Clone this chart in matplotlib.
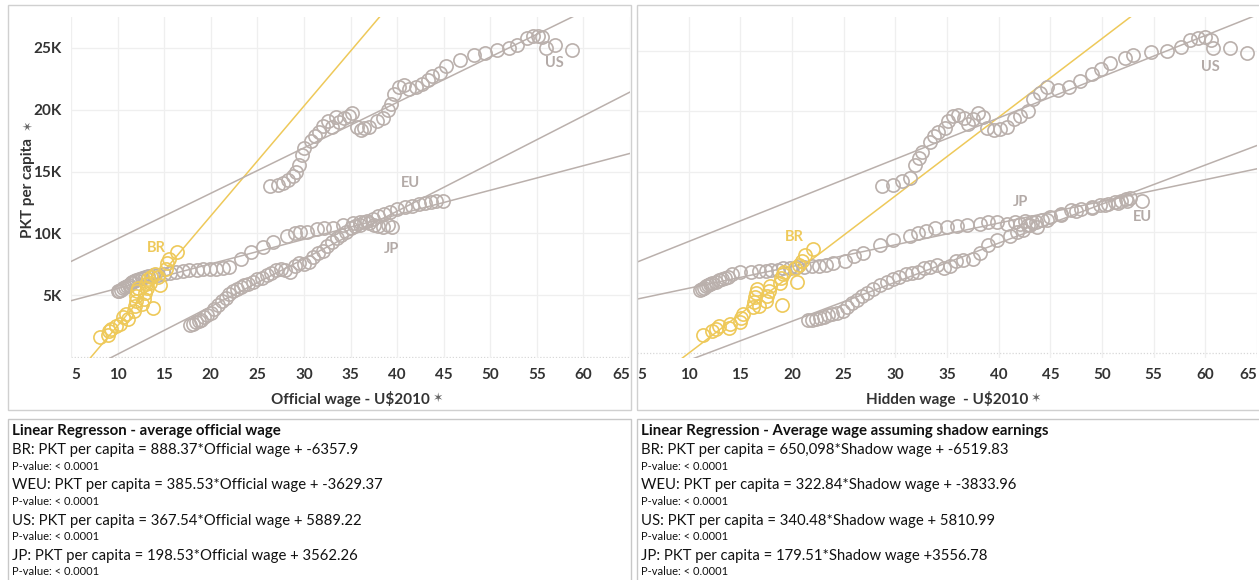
import numpy as np
import matplotlib
matplotlib.use("Agg")
import matplotlib.pyplot as plt
from matplotlib.patches import Rectangle

plt.rcParams['font.family'] = ['Lato', 'DejaVu Sans']

W, H = 1259, 580
GRAY = '#bab0ac'
YELLOW = '#eec95a'
LABEL_GRAY = '#b3aaa7'

# ---- official wage panel ----
br_off_x = [8.1, 9.0, 9.1, 9.3, 9.8, 10.3, 10.6, 10.9, 11.1, 11.8, 11.9, 12.0, 12.0, 12.1, 12.2,
            12.6, 12.8, 12.9, 13.0, 13.2, 13.3, 13.5, 13.6, 13.8, 14.0, 14.3, 14.6, 15.2, 15.3, 15.5, 16.4]
br_off_y = [1600, 1800, 2100, 2300, 2500, 2700, 3200, 3500, 3100, 3700, 4100, 4500, 4900, 5300, 5600,
            4300, 4700, 5200, 5900, 5600, 6300, 6000, 6500, 4000, 6700, 6500, 5800, 7100, 7600, 7900, 8500]

jp_off_x = [10.0, 10.2, 10.4, 10.6, 10.8, 11.0, 11.2, 11.4, 11.6, 11.8, 12.0, 12.3, 12.6, 12.9, 13.3,
            13.8, 14.3, 15.0, 15.6, 16.3, 17.0, 17.7, 18.5, 19.2, 19.9, 20.6, 21.3, 22.0, 23.2, 24.3,
            25.6, 26.7, 28.2, 29.0, 29.6, 30.3, 31.4, 32.2, 33.1, 34.2, 35.3, 36.0, 36.8, 37.4, 38.0,
            38.6, 39.2, 40.0, 40.8, 41.6, 42.3, 43.0, 43.6, 44.2, 44.9]
jp_off_y = [5300, 5350, 5450, 5550, 5650, 5750, 5850, 5950, 6050, 6150, 6250, 6300, 6400, 6450, 6550,
            6600, 6650, 6750, 6800, 6900, 6950, 7000, 7050, 7100, 7150, 7100, 7200, 7300, 7900, 8500,
            8900, 9300, 9800, 10000, 10100, 10150, 10350, 10400, 10450, 10700, 10800, 10950, 11000, 11200, 11400,
            11600, 11700, 11950, 12100, 12250, 12350, 12450, 12550, 12650, 12600]

eu_off_x = [17.8, 18.1, 18.4, 18.7, 19.0, 19.3, 19.6, 20.0, 20.4, 20.8, 21.2, 21.6, 22.0, 22.4, 22.8,
            23.2, 23.6, 24.0, 24.5, 25.0, 25.5, 26.0, 26.5, 27.0, 27.5, 28.0, 28.5, 29.0, 29.5, 30.0,
            30.5, 31.0, 31.5, 32.0, 32.5, 33.0, 33.5, 34.0, 34.5, 35.0, 35.5, 36.0, 36.5, 37.0, 37.5,
            38.0, 38.5, 39.0, 39.5]
eu_off_y = [2600, 2700, 2800, 2900, 3000, 3200, 3400, 3600, 3900, 4200, 4500, 4800, 5100, 5300, 5500,
            5700, 5800, 5900, 6100, 6300, 6400, 6600, 6800, 7000, 7100, 7000, 6900, 7400, 7600, 7500,
            7700, 8100, 8400, 8600, 9000, 9300, 9600, 9900, 10100, 10400, 10600, 10700, 10900, 10800, 10700,
            10600, 10500, 10700, 10500]

us_off_x = [26.4, 27.2, 27.8, 28.3, 28.8, 29.2, 29.5, 29.8, 30.0, 30.8, 31.2, 31.6, 32.1, 32.6, 33.0,
            33.4, 33.8, 34.3, 34.8, 35.2, 35.7, 36.1, 36.5, 37.0, 37.8, 38.5, 39.0, 39.3, 39.7, 40.2,
            40.7, 41.3, 42.0, 42.7, 43.3, 43.8, 44.6, 45.3, 46.7, 48.3, 49.4, 50.7, 52.0, 52.9, 53.9,
            54.6, 55.1, 55.6, 56.0, 57.0, 58.8]
us_off_y = [13800, 13900, 14100, 14300, 14600, 15000, 15500, 16300, 16900, 17500, 17900, 18200, 18700, 19100, 18600,
            19400, 19000, 19300, 19500, 19700, 18600, 18400, 18500, 18600, 19100, 19300, 20000, 20500, 21300, 21800,
            22000, 21700, 21800, 22100, 22400, 22700, 23000, 23500, 24000, 24400, 24600, 24800, 25000, 25200, 25800,
            26000, 26000, 25900, 25000, 25200, 24800]

# ---- hidden (shadow) wage panel ----
br_hid_x = [11.4, 12.3, 12.6, 12.9, 13.9, 14.0, 15.0, 15.1, 15.3, 16.2, 16.3, 16.4, 16.5, 16.6, 16.8,
            17.5, 17.6, 17.8, 17.9, 18.8, 18.9, 19.1, 19.2, 19.0, 20.5, 20.3, 20.7, 21.0, 21.3, 22.0]
br_hid_y = [1500, 1800, 2000, 2200, 2100, 2400, 2600, 2900, 3200, 3800, 4200, 4600, 5000, 5300, 3900,
            4300, 4700, 5100, 5500, 5800, 6200, 6500, 6700, 4000, 5900, 7000, 7300, 7600, 8100, 8600]

jp_hid_x = [11.1, 11.3, 11.5, 11.7, 11.9, 12.1, 12.3, 12.6, 12.9, 13.2, 13.5, 13.8, 14.2, 15.0, 16.0,
            16.8, 17.5, 18.0, 18.6, 19.1, 19.8, 20.5, 21.2, 21.9, 22.6, 23.3, 24.0, 25.1, 26.0, 26.9,
            28.5, 29.8, 31.4, 32.2, 33.0, 33.8, 35.0, 36.0, 36.9, 38.2, 39.0, 39.8, 40.8, 41.6, 42.1,
            42.5, 42.8, 43.2, 43.7, 44.7, 46.0, 47.5, 49.0, 50.3, 51.5, 52.4, 53.9]
jp_hid_y = [5200, 5300, 5400, 5500, 5600, 5700, 5800, 5900, 6000, 6100, 6200, 6300, 6500, 6700, 6700,
            6800, 6800, 6900, 6900, 7000, 7000, 7100, 7100, 7200, 7200, 7300, 7400, 7600, 8000, 8300,
            8900, 9300, 9700, 9900, 10100, 10300, 10400, 10500, 10600, 10700, 10800, 10800, 10700, 10800, 10700,
            10900, 10600, 10800, 10400, 11000, 11400, 11700, 12000, 12200, 12400, 12600, 12600]

eu_hid_x = [21.5, 21.9, 22.3, 22.7, 23.1, 23.5, 23.9, 24.4, 24.9, 25.3, 25.8, 26.3, 26.8, 27.3, 27.8,
            28.5, 29.2, 29.8, 30.4, 31.0, 31.6, 32.2, 32.8, 33.4, 34.0, 34.7, 35.3, 35.9, 36.5, 37.5,
            38.2, 39.0, 39.8, 41.1, 41.8, 42.4, 43.0, 43.6, 44.2, 45.0, 46.0, 47.0, 48.0, 49.0, 49.8,
            50.6, 51.3, 51.8, 52.3, 52.7]
eu_hid_y = [2700, 2700, 2800, 2900, 3000, 3100, 3200, 3300, 3500, 3800, 4100, 4400, 4700, 5000, 5300,
            5600, 5900, 6100, 6300, 6500, 6600, 6700, 7000, 7100, 7300, 7000, 7200, 7600, 7700, 7800,
            8300, 8900, 9300, 9700, 10000, 10200, 10600, 10800, 11000, 11200, 11500, 11800, 11900, 12100, 12200,
            12300, 12500, 12600, 12700, 12800]

us_hid_x = [28.7, 29.8, 30.6, 31.4, 31.9, 32.3, 32.6, 33.4, 33.7, 34.1, 34.8, 35.1, 35.6, 36.1, 36.6,
            37.0, 37.5, 38.0, 38.5, 38.9, 39.5, 40.1, 40.8, 41.5, 42.1, 42.8, 43.3, 44.0, 44.7, 45.7,
            46.8, 47.9, 49.0, 49.9, 50.8, 52.2, 53.0, 54.7, 56.3, 57.6, 58.5, 59.3, 60.0, 60.5, 60.7,
            62.4, 64.0]
us_hid_y = [13800, 13900, 14200, 14500, 15500, 16100, 16600, 17400, 17900, 18300, 18600, 19200, 19600, 19700, 19400,
            18900, 19300, 19800, 19500, 18600, 18400, 18500, 18700, 19300, 19600, 20000, 21000, 21500, 22000, 21700,
            22000, 22500, 23100, 23500, 24000, 24400, 24600, 24900, 25000, 25300, 25900, 26000, 26100, 25900, 25200,
            25200, 24800]

# regression coefficients (slope, intercept) in order BR, WEU, US, JP
reg_names = ['BR', 'WEU', 'US', 'JP']
off_slope = [888.37, 385.53, 367.54, 198.53]
off_icpt = [-6357.9, -3629.37, 5889.22, 3562.26]
hid_slope = [650.098, 322.84, 340.48, 179.51]
hid_icpt = [-6519.83, -3833.96, 5810.99, 3556.78]

off_lines = [
    "BR: PKT per capita = 888.37*Official wage + -6357.9",
    "WEU: PKT per capita = 385.53*Official wage + -3629.37",
    "US: PKT per capita = 367.54*Official wage + 5889.22",
    "JP: PKT per capita = 198.53*Official wage + 3562.26",
]
hid_lines = [
    "BR: PKT per capita = 650,098*Shadow wage + -6519.83",
    "WEU: PKT per capita = 322.84*Shadow wage + -3833.96",
    "US: PKT per capita = 340.48*Shadow wage + 5810.99",
    "JP: PKT per capita = 179.51*Shadow wage +3556.78",
]

x_ticks = [5, 10, 15, 20, 25, 30, 35, 40, 45, 50, 55, 60, 65]
y_ticks = [5000, 10000, 15000, 20000, 25000]
y_ticklabels = ['5K', '10K', '15K', '20K', '25K']


def fx(px):
    return px / W


def fy(py):
    return 1 - py / H


fig = plt.figure(figsize=(W / 100, H / 100), dpi=100)
fig.patch.set_facecolor('white')

# panel frames
for x0, x1 in [(8, 631), (637, 1262)]:
    fig.add_artist(Rectangle((fx(x0), fy(410)), fx(x1 - x0), (410 - 5) / H, transform=fig.transFigure,
                             fill=False, edgecolor='#d0d0d0', lw=1))
    fig.add_artist(Rectangle((fx(x0), fy(585)), fx(x1 - x0), (585 - 419) / H, transform=fig.transFigure,
                             fill=False, edgecolor='#c8c8c8', lw=1))


def draw_panel(ax, series, labels, slopes, icpts, xlabel, ylim, show_y):
    ax.set_xlim(5, 65)
    ax.set_ylim(*ylim)
    for s in ax.spines.values():
        s.set_visible(False)
    ax.set_xticks(x_ticks)
    ax.set_xticklabels([str(t) for t in x_ticks], fontweight='bold')
    ax.set_yticks(y_ticks)
    ax.grid(True, color='#efefef', lw=0.9)
    ax.set_axisbelow(True)
    ax.axhline(0, color='#d8d8d8', lw=0.9, ls=(0, (1, 1.5)), zorder=0)
    ax.tick_params(length=0, labelsize=11, labelcolor='#333333', pad=7)
    if show_y:
        ax.set_yticklabels(y_ticklabels, fontweight='bold')
    else:
        ax.set_yticklabels([])

    xs = np.linspace(5, 65, 50)
    for i, (sl, ic) in enumerate(zip(slopes, icpts)):
        col = YELLOW if i == 0 else GRAY
        ax.plot(xs, sl * xs + ic, color=col, lw=1.1, zorder=2)

    for (x, y, col) in series:
        ax.plot(x, y, 'o', ms=9.5, mfc='none', mec=col, mew=1.2, zorder=3)

    for (txt, lx, ly, col) in labels:
        ax.text(lx, ly, txt, color=col, fontsize=10.5, fontweight='bold', ha='center', va='center')

    ax.set_xlabel(xlabel, fontsize=11, fontweight='bold', color='#333333', labelpad=7)


ax1 = fig.add_axes([fx(71), fy(358), fx(630 - 71), (358 - 17) / H])
draw_panel(ax1,
           [(eu_off_x, eu_off_y, GRAY), (jp_off_x, jp_off_y, GRAY), (us_off_x, us_off_y, GRAY),
            (br_off_x, br_off_y, YELLOW)],
           [('BR', 14.2, 8800, YELLOW), ('EU', 41.4, 14050, LABEL_GRAY),
            ('JP', 39.4, 8700, LABEL_GRAY), ('US', 56.9, 23800, LABEL_GRAY)],
           off_slope, off_icpt, 'Official wage - U$2010', (-80, 27500), True)
ax1.set_ylabel('PKT per capita', fontsize=11, fontweight='bold', color='#333333')
ax1.yaxis.set_label_coords(-(71 - 35) / 559, 0.5)

ax2 = fig.add_axes([fx(637), fy(358), fx(1257 - 637), (358 - 17) / H])
draw_panel(ax2,
           [(eu_hid_x, eu_hid_y, GRAY), (jp_hid_x, jp_hid_y, GRAY), (us_hid_x, us_hid_y, GRAY),
            (br_hid_x, br_hid_y, YELLOW)],
           [('BR', 20.2, 9600, YELLOW), ('JP', 42.1, 12500, LABEL_GRAY),
            ('EU', 53.9, 11200, LABEL_GRAY), ('US', 60.5, 23600, LABEL_GRAY)],
           hid_slope, hid_icpt, 'Hidden wage  - U$2010', (-413, 27770), False)

# edge tick labels sit inside the axis, bold everywhere
fig.canvas.draw()
for ax in (ax1, ax2):
    tl = ax.get_xticklabels()
    for lab in tl + ax.get_yticklabels():
        lab.set_fontweight('bold')
    tl[0].set_horizontalalignment('left')
    tl[-1].set_horizontalalignment('right')

# small pin icons next to axis titles
for (px, py, rot) in [(438, 398, 0), (1036, 398, 0), (28, 125, 90)]:
    fig.text(fx(px), fy(py), '\u2736', fontsize=9, color='#666666', ha='center', va='center',
             rotation=rot, family='DejaVu Sans')

# regression text boxes
for x0, title, lines in [(12, 'Linear Regresson - average official wage', off_lines),
                         (641, 'Linear Regression - Average wage assuming shadow earnings', hid_lines)]:
    fig.text(fx(x0), fy(431), title, fontsize=10.8, fontweight='bold', color='#111111', va='center')
    for i, line in enumerate(lines):
        yl = 450 + i * 35.3
        fig.text(fx(x0), fy(yl), line, fontsize=10.7, color='#111111', va='center')
        fig.text(fx(x0), fy(yl + 16), 'P-value: < 0.0001', fontsize=8, color='#111111', va='center')

fig.savefig('out.png', dpi=100)
